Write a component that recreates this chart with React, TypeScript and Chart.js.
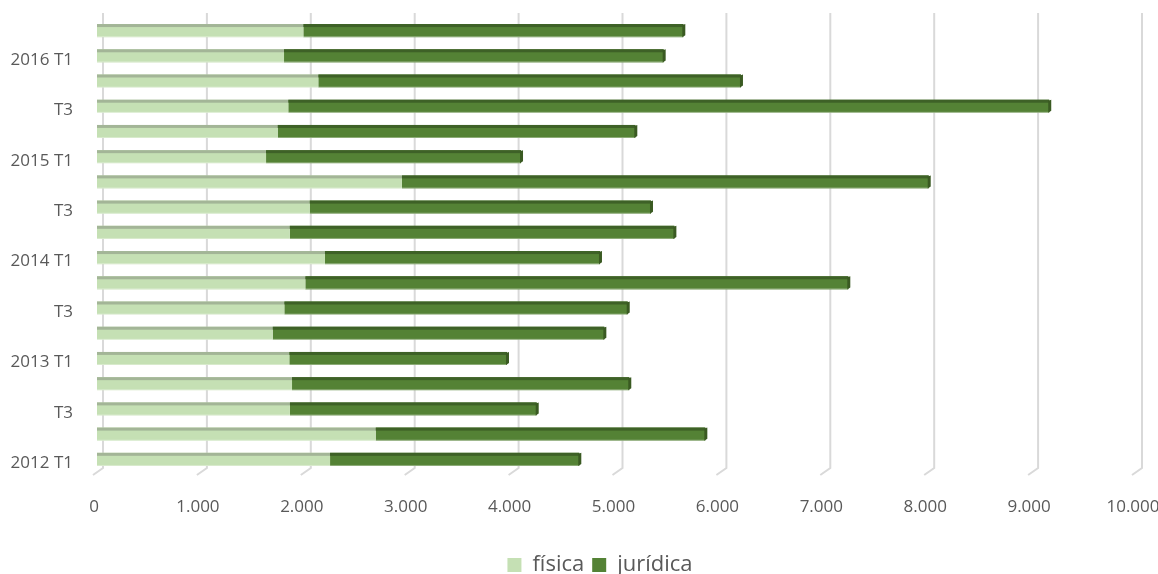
import React, { useEffect, useRef } from 'react';
import { Chart, registerables } from 'chart.js';

Chart.register(...registerables);

const categories = [
  '2012 T1', 'T2', 'T3', 'T4',
  '2013 T1', 'T2', 'T3', 'T4',
  '2014 T1', 'T2', 'T3', 'T4',
  '2015 T1', 'T2', 'T3', 'T4',
  '2016 T1', 'T2',
];
const fisica = [2243, 2682, 1857, 1877, 1851, 1691, 1803, 2005, 2194, 1855, 2047, 2935, 1627, 1739, 1841, 2130, 1800, 1986];
const juridica = [2399, 3173, 2375, 3246, 2095, 3192, 3305, 5226, 2647, 3702, 3285, 5070, 2454, 3442, 7324, 4068, 3654, 3657];
const seriesNames = ['física', 'jurídica'];
const xMax = 10000;
const xStep = 1000;

const FONT = '"Open Sans", "DejaVu Sans", sans-serif';
const TEXT = '#595959';
const FACE = ['#c5e0b4', '#548235'];
const TOPFACE = ['#a3b597', '#3e6127'];
const SIDE = '#3a5a22';

const fmt = (v: number) => String(v).replace(/\B(?=(\d{3})+(?!\d))/g, '.');

const grid3d = {
  id: 'grid3d',
  beforeDatasetsDraw(chart: any) {
    const ctx = chart.ctx;
    const xs = chart.scales.x;
    const { top, bottom } = chart.chartArea;
    ctx.save();
    ctx.strokeStyle = '#d9d9d9';
    ctx.lineWidth = 2;
    xs.ticks.forEach((t: any) => {
      const px = xs.getPixelForValue(t.value);
      ctx.beginPath();
      ctx.moveTo(px + 6, top - 5);
      ctx.lineTo(px + 6, bottom - 4);
      ctx.lineTo(px - 4, bottom + 3);
      ctx.stroke();
    });
    ctx.restore();
  },
};

const bar3d = {
  id: 'bar3d',
  afterDatasetsDraw(chart: any) {
    const ctx = chart.ctx;
    const n = chart.data.datasets.length;
    ctx.save();
    chart.data.datasets.forEach((_ds: any, di: number) => {
      const meta = chart.getDatasetMeta(di);
      meta.data.forEach((el: any) => {
        const { x, y, base, height } = el.getProps(['x', 'y', 'base', 'height'], true);
        const top = y - height / 2;
        const bot = y + height / 2;
        const left = Math.min(x, base);
        const right = Math.max(x, base);
        ctx.fillStyle = TOPFACE[di];
        ctx.fillRect(left, top, right - left, 3);
        ctx.fillStyle = 'rgba(255,255,255,0.35)';
        ctx.fillRect(left, bot - 1, right - left, 1);
        if (di === n - 1) {
          ctx.fillStyle = SIDE;
          ctx.beginPath();
          ctx.moveTo(right - 1, top + 1);
          ctx.lineTo(right + 2, top);
          ctx.lineTo(right + 2, bot - 2);
          ctx.lineTo(right - 1, bot);
          ctx.closePath();
          ctx.fill();
        }
      });
    });
    ctx.restore();
  },
};

// moves the legend box to where the reference has it
const legendShift = {
  id: 'legendShift',
  afterLayout(chart: any) {
    const lg = chart.legend;
    if (!lg) return;
    const dx = 32;
    const dy = 12;
    lg.left += dx;
    lg.right += dx;
    lg.top += dy;
    lg.bottom += dy;
  },
};

export default function App() {
  const ref = useRef<HTMLCanvasElement | null>(null);

  useEffect(() => {
    if (!ref.current) return;
    const chart = new Chart(ref.current, {
      type: 'bar',
      data: {
        labels: categories,
        datasets: [
          {
            label: seriesNames[0],
            data: fisica,
            backgroundColor: FACE[0],
            borderWidth: 0,
            barPercentage: 0.52,
            categoryPercentage: 1,
          },
          {
            label: seriesNames[1],
            data: juridica,
            backgroundColor: FACE[1],
            borderWidth: 0,
            barPercentage: 0.52,
            categoryPercentage: 1,
          },
        ],
      },
      options: {
        indexAxis: 'y',
        animation: false,
        responsive: true,
        maintainAspectRatio: false,
        layout: { padding: { left: 0, right: 22, top: 18, bottom: 0 } },
        scales: {
          x: {
            stacked: true,
            min: 0,
            max: xMax,
            border: { display: false },
            grid: { display: false, drawTicks: false },
            ticks: {
              stepSize: xStep,
              padding: 25,
              labelOffset: -3,
              maxRotation: 0,
              color: TEXT,
              font: { family: FONT, size: 17 },
              callback: (v: any) => fmt(Number(v)),
            },
            afterFit: (s: any) => {
              s.height = 62;
              s.paddingLeft = 0;
              s.paddingRight = 0;
            },
          },
          y: {
            stacked: true,
            reverse: true,
            border: { display: false },
            grid: { display: false, drawTicks: false },
            ticks: {
              autoSkip: false,
              padding: 24,
              labelOffset: 4,
              color: TEXT,
              font: { family: FONT, size: 17 },
              callback: (_v: any, i: number) => (i % 2 === 0 ? categories[i] : ''),
            },
            afterFit: (s: any) => {
              s.width = 97;
              s.paddingTop = 0;
              s.paddingBottom = 0;
            },
          },
        },
        plugins: {
          legend: {
            position: 'bottom',
            labels: {
              color: TEXT,
              font: { family: FONT, size: 22 },
              boxWidth: 14,
              boxHeight: 14,
              padding: 8,
              useBorderRadius: false,
            },
          },
          tooltip: { enabled: false },
        },
      },
      plugins: [grid3d, bar3d, legendShift],
    });
    return () => chart.destroy();
  }, []);

  return (
    <div style={{ position: 'absolute', left: 0, top: 0, width: 1158, height: 574, background: '#fff' }}>
      <canvas ref={ref} />
    </div>
  );
}
